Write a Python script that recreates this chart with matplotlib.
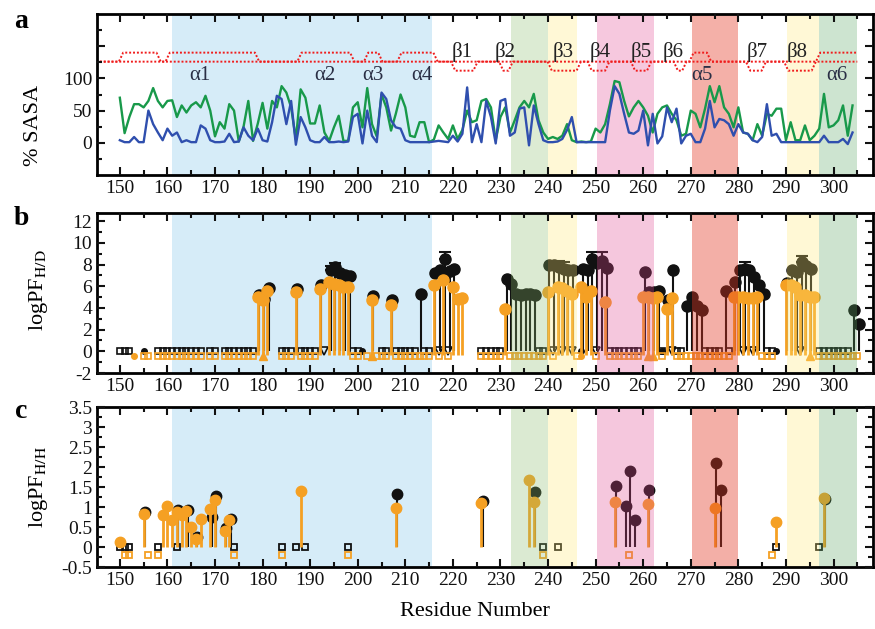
import numpy as np
import matplotlib
matplotlib.use('Agg')
import matplotlib.pyplot as plt
from matplotlib.ticker import MultipleLocator

plt.rcParams['font.family'] = ['Liberation Serif', 'DejaVu Serif']
plt.rcParams['mathtext.fontset'] = 'stix'
plt.rcParams['axes.unicode_minus'] = False

# ---- panel a: % SASA per residue (150..304)
residues = np.arange(150, 305)
sasa_green = [70, 15, 40, 60, 60, 55, 65, 85, 65, 55,
              65, 66, 40, 58, 47, 58, 63, 55, 73, 50,
              10, 32, 22, 60, 50, 2, 25, 65, 3, 30,
              62, 22, 65, 55, 88, 78, 55, 5, 83, 70,
              30, 30, 58, 16, 3, 24, 42, 3, 3, 55,
              63, 24, 85, 29, 10, 75, 55, 19, 45, 75,
              55, 11, 9, 32, 32, 1, 5, 27, 16, 6,
              27, 6, 20, 50, 32, 35, 65, 68, 55, 4,
              40, 55, 16, 35, 55, 65, 55, 76, 35, 16,
              6, 9, 6, 11, 29, 4, 1, 2, 1, 2,
              22, 16, 29, 60, 96, 94, 65, 41, 55, 65,
              55, 42, 16, 45, 55, 58, 45, 35, 11, 14,
              50, 45, 24, 53, 88, 63, 88, 55, 45, 24,
              55, 16, 14, 4, 29, 11, 45, 42, 53, 53,
              4, 32, 4, 4, 27, 4, 11, 22, 76, 24,
              27, 35, 58, 11, 58]
sasa_blue = [4, 1, 1, 9, 1, 1, 50, 29, 16, 4,
             22, 11, 16, 1, 4, 1, 1, 27, 22, 4,
             1, 1, 2, 14, 1, 2, 24, 11, 4, 22,
             4, 2, 32, 73, 68, 29, 65, -3, 40, 24,
             4, 1, 1, 9, 1, 1, 2, 1, 2, 40,
             45, -1, 50, 11, 1, 78, 68, 35, 24, 22,
             4, 1, 1, 1, 1, 1, 2, 3, 2, 1,
             11, 2, 14, 86, 1, 29, 1, 65, 40, -1,
             65, 68, 11, 16, 53, 55, -4, 58, 29, 4,
             1, 1, 2, 6, 20, 40, 1, 1, 1, 1,
             1, 1, 1, 50, 88, 76, 45, 16, 14, 19,
             50, -4, 45, -1, 10, 55, 32, 53, -1, 11,
             14, 1, 1, 22, 65, 24, 37, 35, 29, 11,
             29, 16, 14, 4, 1, 9, 60, 11, 14, 1,
             1, 1, 1, 1, 1, 1, 1, 1, 11, 1,
             1, 1, 6, -2, 16]

# secondary structure (start, end) of helices / strands
helices = [(150.7, 157.7), (160.5, 178.4), (188.2, 198.4), (202.2, 204.3),
           (209.2, 215.9), (270.6, 273.4), (297.2, 305.0)]
strands = [(220.5, 224.3), (230.6, 231.7), (240.8, 246.0), (249.2, 252.0),
           (258.3, 260.8), (267.3, 268.2), (282.5, 284.9), (290.5, 295.4)]
helix_names = ['α1', 'α2', 'α3', 'α4', 'α5', 'α6']
helix_name_x = [166.8, 193.1, 203.3, 213.4, 272.3, 300.7]
strand_names = ['β1', 'β2', 'β3', 'β4', 'β5', 'β6', 'β7', 'β8']
strand_name_x = [221.9, 231.0, 243.2, 251.0, 259.5, 266.3, 283.9, 292.3]

# shaded regions: start, end, flat colour, tint colour + alpha (drawn over data)
band_start = [160.9, 232.3, 240.0, 250.2, 270.2, 290.2, 297.0]
band_end = [215.7, 240.0, 246.0, 262.2, 280.0, 297.0, 305.0]
band_flat = ['#d6ecf8', '#dcebd3', '#fff8d6', '#f6c8de', '#f4b0a8', '#fff8d6', '#cde4d0']
band_tint = [None, '#8abc6c', '#ffeb76', '#e14891', '#e33925', '#ffeb76', '#5ca562']
band_alpha = [0, 0.3, 0.3, 0.3, 0.4, 0.3, 0.3]

# ---- panel b: logPF H/D
b_black_res = [179, 180, 181, 187, 192, 194, 195, 196, 197, 198, 203, 207, 213,
               216, 217, 218, 219, 220, 231, 232, 233, 234, 235, 236, 237,
               240, 241, 242, 243, 244, 245, 247, 248, 249, 250, 251, 252,
               260, 261, 262, 263, 265, 266, 269, 270, 271, 272, 277,
               279, 280, 281, 282, 283, 284, 285, 290, 291, 292, 293, 294, 295,
               304, 305]
b_black_val = [5.15, 4.85, 5.8, 5.7, 6.1, 7.5, 7.8, 7.2, 7.0, 6.9, 5.1, 4.7, 5.25,
               7.2, 7.5, 8.5, 7.4, 7.6, 6.7, 6.2, 5.3, 5.2, 5.25, 5.3, 5.2,
               8.0, 8.0, 7.8, 7.6, 7.5, 7.5, 7.6, 7.5, 8.5, 8.1, 8.3, 7.7,
               7.3, 5.5, 5.5, 5.6, 4.7, 7.5, 4.2, 5.0, 4.2, 3.8, 5.6,
               6.4, 7.5, 7.6, 7.5, 6.85, 6.1, 5.3, 6.3, 7.5, 7.3, 8.2, 7.9, 7.6,
               3.8, 2.5]
b_err_res = [194, 195, 218, 242, 243, 249, 251, 281, 293]
b_err_val = [0.4, 0.3, 0.7, 0.5, 0.6, 0.7, 0.9, 0.6, 0.6]
b_orange_res = [179, 180, 181, 187, 192, 194, 195, 196, 197, 198, 203, 207,
                216, 218, 220, 221, 222, 231, 240, 242, 243, 244, 245, 247, 248,
                249, 252, 260, 261, 262, 263, 265, 266, 279, 280, 281, 282, 283,
                284, 290, 291, 292, 293, 294, 295, 296]
b_orange_val = [5.0, 4.7, 5.6, 5.5, 5.7, 6.4, 6.2, 6.1, 5.9, 5.9, 4.7, 4.3,
                6.1, 6.6, 5.9, 4.85, 4.9, 3.9, 5.5, 5.9, 5.85, 5.6, 5.3, 5.9, 5.0,
                5.6, 4.5, 5.0, 5.0, 4.95, 5.0, 3.9, 4.95, 5.0, 5.0, 5.0, 4.95, 4.95,
                5.0, 6.1, 6.1, 5.9, 5.2, 5.2, 5.0, 5.0]
b_black_sq = [150, 151, 152, 158, 159, 160, 161, 162, 163, 164, 165, 166, 167,
              169, 170, 172, 173, 174, 175, 176, 177, 178, 184, 185, 186, 188,
              189, 190, 191, 199, 200, 205, 206, 208, 209, 210, 211, 212, 214,
              215, 226, 227, 228, 229, 230, 238, 239, 253, 254, 255, 256, 257,
              258, 259, 264, 267, 268, 273, 274, 275, 276, 278, 286, 287,
              297, 298, 299, 300, 301, 302, 303]
b_black_tri = [193, 217, 219, 241, 243, 245, 250, 266, 281, 283, 293]
b_black_dot = [155, 201, 247, 264, 288]
b_orange_sq = [155, 156, 158, 159, 160, 161, 162, 163, 164, 165, 166, 167, 169,
               170, 172, 173, 174, 175, 176, 177, 178, 184, 185, 186, 188, 189,
               190, 191, 199, 200, 202, 204, 205, 206, 208, 209, 210, 211, 212,
               213, 214, 215, 217, 219, 226, 227, 228, 229, 230, 232, 233, 234,
               235, 236, 237, 238, 239, 241, 246, 250, 253, 254, 255, 256, 257,
               258, 259, 264, 267, 268, 269, 270, 271, 272, 273, 274, 275, 276,
               277, 278, 285, 286, 287, 297, 298, 299, 300, 301, 302, 303, 304,
               305]
b_orange_tri = [180, 203, 261, 262, 295]
b_orange_dot = [153, 247]

# ---- panel c: logPF H/H
c_black_res = [155, 162, 164, 166, 169, 170, 172, 173, 208, 226, 237,
               254, 256, 257, 258, 261, 275, 276, 298]
c_black_val = [0.87, 0.93, 0.92, 0.25, 0.75, 1.27, 0.48, 0.71, 1.33, 1.15, 1.37,
               1.52, 1.02, 1.89, 0.67, 1.42, 2.11, 1.42, 1.2]
c_orange_res = [150, 155, 159, 160, 161, 162, 163, 164, 165, 166, 167, 169, 170,
                172, 173, 188, 208, 226, 236, 237, 254, 261, 275, 288, 298]
c_orange_val = [0.12, 0.82, 0.79, 1.02, 0.67, 0.87, 0.79, 0.9, 0.5, 0.21, 0.71,
                0.96, 1.18, 0.4, 0.67, 1.4, 0.98, 1.1, 1.67, 1.12, 1.12, 1.08,
                0.98, 0.63, 1.23]
c_black_sq = [150, 151, 152, 158, 162, 174, 184, 187, 189, 198, 239, 242, 288, 297]
c_orange_sq = [151, 152, 156, 158, 174, 184, 198, 239, 257, 287]

ORANGE = '#f5a023'
BLACK = '#111111'


def ss_path(segs, base, level, x0, x1, ramp=0.9):
    xs, ys = [x0], [base]
    for s, e in segs:
        xs += [s - ramp, s, e]
        ys += [base, level, level]
        if e + ramp <= x1:
            xs.append(e + ramp)
            ys.append(base)
    if xs[-1] < x1:
        xs.append(x1)
        ys.append(base)
    return xs, ys


def style(ax, tint):
    ax.set_xlim(145.2, 308.3)
    ax.xaxis.set_major_locator(MultipleLocator(10))
    ax.xaxis.set_minor_locator(MultipleLocator(5))
    ax.tick_params(which='both', direction='in', top=True, right=True,
                   width=1.5, labelsize=14, colors='#111111')
    ax.tick_params(which='major', length=6)
    ax.tick_params(which='minor', length=3.5)
    for sp in ax.spines.values():
        sp.set_linewidth(2)
        sp.set_zorder(10)
    ax.xaxis.set_zorder(10)
    ax.yaxis.set_zorder(10)
    for s, e, fc, tc, a in zip(band_start, band_end, band_flat, band_tint, band_alpha):
        if tint and tc is not None:
            ax.axvspan(s, e, color=tc, alpha=a, lw=0, zorder=5)
        else:
            ax.axvspan(s, e, color=fc, lw=0, zorder=0)


fig = plt.figure(figsize=(8.75, 6.29), dpi=100)
L, W = 97 / 875, 776 / 875
ax_a = fig.add_axes([L, 1 - 175 / 629, W, 161 / 629])
ax_b = fig.add_axes([L, 1 - 373 / 629, W, 160 / 629])
ax_c = fig.add_axes([L, 1 - 567 / 629, W, 160 / 629])

# panel a
ax_a.plot(residues, sasa_green, color='#18994a', lw=1.7, zorder=3)
ax_a.plot(residues, sasa_blue, color='#2f4fae', lw=1.7, zorder=3)
hx, hy = ss_path(helices, 126, 140, 145.8, 305)
sx, sy = ss_path(strands, 126, 112, 145.8, 305)
ax_a.plot(hx, hy, color='#f01c1c', lw=1.4, ls=(0, (1, 1)), zorder=3)
ax_a.plot(sx, sy, color='#f01c1c', lw=1.4, ls=(0, (1, 1)), zorder=3)
for name, x in zip(helix_names, helix_name_x):
    ax_a.text(x, 105, name, ha='center', va='center', fontsize=15,
              color='#2a2f45', zorder=4)
for name, x in zip(strand_names, strand_name_x):
    ax_a.text(x, 141, name, ha='center', va='center', fontsize=15,
              color='#222222', zorder=4)
ax_a.set_ylim(-50, 200)
ax_a.set_yticks([0, 50, 100, 150], ['0', '50', '100', ''])
ax_a.set_yticks([-25, 25, 75, 125, 175], minor=True)
style(ax_a, False)

# panel b
bx = np.array(b_black_res) + 0.3
ax_b.vlines(bx, 0, b_black_val, color=BLACK, lw=1.5, zorder=3)
ax_b.plot(bx, b_black_val, 'o', color=BLACK, ms=8, zorder=3)
err_v = [b_black_val[b_black_res.index(r)] for r in b_err_res]
ax_b.errorbar(np.array(b_err_res) + 0.3, err_v,
              yerr=[np.zeros(len(b_err_val)), b_err_val], fmt='none',
              ecolor=BLACK, elinewidth=1.5, capsize=4, capthick=1.5, zorder=3)
ax_b.plot(b_black_sq, np.zeros(len(b_black_sq)), 's', mfc='none', mec=BLACK,
          ms=5, mew=1.2, zorder=3)
ax_b.plot(b_black_tri, np.zeros(len(b_black_tri)), 'v', mfc='none', mec=BLACK,
          ms=6, mew=1.2, zorder=3)
ax_b.plot(b_black_dot, np.zeros(len(b_black_dot)), 'o', color=BLACK, ms=4, zorder=3)
ax_b.plot(b_orange_sq, np.full(len(b_orange_sq), -0.4), 's', mfc='none',
          mec=ORANGE, ms=5, mew=1.2, zorder=4)
ax_b.plot(b_orange_tri, np.full(len(b_orange_tri), -0.4), '^', color=ORANGE,
          ms=6, zorder=4)
ax_b.plot(b_orange_dot, np.full(len(b_orange_dot), -0.4), 'o', color=ORANGE,
          ms=4, zorder=4)
ax_b.vlines(b_orange_res, -0.3, b_orange_val, color=ORANGE, lw=2, zorder=4)
ax_b.plot(b_orange_res, b_orange_val, 'o', color=ORANGE, ms=8, zorder=4)
ax_b.set_ylim(-2, 12.75)
ax_b.yaxis.set_major_locator(MultipleLocator(2))
ax_b.yaxis.set_minor_locator(MultipleLocator(1))
style(ax_b, True)

# panel c
cx = np.array(c_black_res) + 0.3
ax_c.vlines(cx, 0, c_black_val, color=BLACK, lw=1.5, zorder=3)
ax_c.plot(cx, c_black_val, 'o', color=BLACK, ms=7.5, zorder=3)
ax_c.plot(c_black_sq, np.zeros(len(c_black_sq)), 's', mfc='none', mec=BLACK,
          ms=5, mew=1.3, zorder=3)
ax_c.plot(c_orange_sq, np.full(len(c_orange_sq), -0.2), 's', mfc='none',
          mec=ORANGE, ms=5, mew=1.3, zorder=4)
ax_c.vlines(c_orange_res, 0, c_orange_val, color=ORANGE, lw=2, zorder=4)
ax_c.plot(c_orange_res, c_orange_val, 'o', color=ORANGE, ms=7.5, zorder=4)
ax_c.set_ylim(-0.5, 3.5)
ax_c.yaxis.set_major_locator(MultipleLocator(0.5))
ax_c.yaxis.set_minor_locator(MultipleLocator(0.25))
ax_c.yaxis.set_major_formatter(plt.FuncFormatter(lambda v, p: '%g' % v))
style(ax_c, True)

# labels
fig.text(34 / 875, 1 - 125 / 629, '% SASA', rotation=90, ha='center',
         va='center', fontsize=16)
fig.text(38 / 875, 1 - 290 / 629, r'logPF$_{\rm H/D}$', rotation=90,
         ha='center', va='center', fontsize=16)
fig.text(38 / 875, 1 - 487 / 629, r'logPF$_{\rm H/H}$', rotation=90,
         ha='center', va='center', fontsize=16)
fig.text(475 / 875, 1 - 612 / 629, 'Residue Number', ha='center', va='center',
         fontsize=16)
for lab, yy in [('a', 22), ('b', 218), ('c', 411)]:
    fig.text(21 / 875, 1 - yy / 629, lab, ha='center', va='center',
             fontsize=20, fontweight='bold')

fig.savefig('out.png', dpi=100)
